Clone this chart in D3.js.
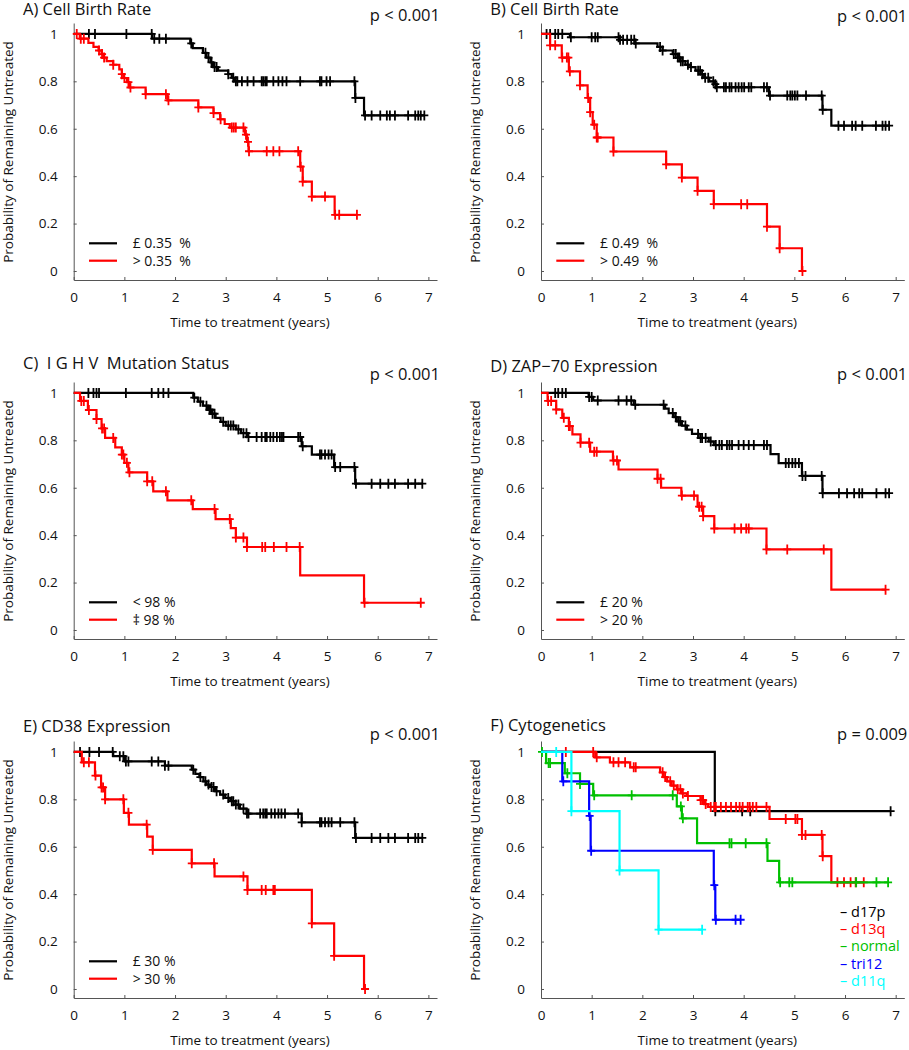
<!DOCTYPE html>
<html>
<head>
<meta charset="utf-8">
<script src="https://cdn.jsdelivr.net/npm/d3@7"></script>
<style>
    body { margin: 0; background: #fff; }
    text { font-family: "Open Sans", sans-serif; }
</style>
</head>
<body>
<svg id="chart" width="909" height="1050"></svg>
<script>
// Kaplan-Meier curves: steps = [time, survival after drop], cens = censor times

// A) cell birth rate 0.35
const aBlackSteps = [[1.55,0.98],[2.3,0.96],[2.35,0.94],[2.55,0.92],[2.62,0.90],[2.7,0.88],[2.75,0.86],[2.85,0.845],[3.05,0.83],[3.12,0.815],[3.18,0.80],[5.555,0.73],[5.73,0.656]];
const aBlackCens = [0.3,0.42,1.04,1.54,1.59,1.69,1.82,2.32,2.6,2.66,2.72,2.78,2.82,3.05,3.15,3.2,3.23,3.32,3.43,3.55,3.71,3.74,3.78,3.81,3.94,4.04,4.12,4.2,4.47,4.86,4.89,4.99,5.06,5.54,5.56,5.75,5.88,6.05,6.18,6.24,6.34,6.6,6.74,6.8,6.85,6.92];
const aRedSteps = [[0.12,0.98],[0.29,0.962],[0.39,0.945],[0.49,0.93],[0.55,0.915],[0.6,0.9],[0.65,0.885],[0.78,0.87],[0.9,0.85],[0.95,0.83],[0.98,0.814],[1.05,0.797],[1.1,0.774],[1.42,0.746],[1.85,0.72],[2.46,0.69],[2.76,0.666],[2.89,0.64],[2.98,0.62],[3.08,0.605],[3.38,0.575],[3.42,0.545],[3.45,0.505],[4.47,0.44],[4.52,0.377],[4.7,0.314],[5.15,0.237]];
const aRedCens = [0.06,0.14,0.2,0.5,0.56,0.6,0.78,0.95,1.0,1.08,1.12,1.42,1.82,1.87,2.46,2.76,2.9,3.12,3.16,3.2,3.35,3.4,3.44,3.46,3.81,3.94,4.06,4.43,4.48,4.52,4.7,4.96,5.16,5.24,5.59];

// B) cell birth rate 0.49
const bBlackSteps = [[0.57,0.986],[1.55,0.975],[1.85,0.96],[2.3,0.945],[2.4,0.93],[2.6,0.915],[2.7,0.90],[2.75,0.885],[2.85,0.87],[2.95,0.86],[3.05,0.845],[3.15,0.83],[3.22,0.815],[3.32,0.80],[3.42,0.788],[3.46,0.775],[4.5,0.74],[5.555,0.68],[5.73,0.613]];
const bBlackCens = [0.11,0.18,0.28,0.34,0.42,0.59,1.0,1.07,1.12,1.53,1.56,1.62,1.7,1.78,1.84,1.87,2.35,2.4,2.62,2.66,2.7,2.73,2.76,2.8,2.9,2.96,3.1,3.14,3.18,3.24,3.3,3.4,3.44,3.47,3.61,3.65,3.72,3.76,3.84,3.9,3.96,4.01,4.1,4.15,4.4,4.46,4.52,4.86,4.92,4.96,5.01,5.06,5.23,5.54,5.56,5.87,5.98,6.14,6.21,6.34,6.61,6.74,6.8,6.87];
const bRedSteps = [[0.18,0.952],[0.41,0.9],[0.55,0.842],[0.77,0.783],[0.92,0.73],[0.97,0.67],[1.02,0.617],[1.1,0.563],[1.43,0.504],[2.47,0.45],[2.78,0.394],[3.09,0.338],[3.41,0.282],[4.46,0.187],[4.71,0.096],[5.15,0]];
const bRedCens = [0.18,0.28,0.42,0.51,0.54,0.57,0.77,0.93,0.97,1.05,1.1,1.12,1.43,2.47,2.78,3.09,3.41,3.95,4.07,4.46,4.71,5.16];

// C) IGHV mutation status
const cBlackSteps = [[2.36,0.98],[2.45,0.963],[2.55,0.946],[2.65,0.929],[2.72,0.912],[2.8,0.895],[2.9,0.878],[3.0,0.862],[3.2,0.846],[3.3,0.83],[3.42,0.814],[4.5,0.775],[4.7,0.74],[5.14,0.687],[5.555,0.617]];
const cBlackCens = [0.29,0.39,0.45,0.5,1.03,1.54,1.67,1.77,1.87,2.38,2.5,2.62,2.68,2.7,2.74,2.78,2.95,3.05,3.1,3.15,3.25,3.35,3.41,3.45,3.61,3.71,3.78,3.81,3.88,3.94,4.01,4.07,4.11,4.14,4.43,4.47,4.52,4.86,4.89,4.96,5.03,5.09,5.16,5.26,5.54,5.57,5.88,6.05,6.21,6.34,6.6,6.74,6.88];
const cRedSteps = [[0.125,0.966],[0.28,0.928],[0.45,0.89],[0.55,0.85],[0.62,0.81],[0.82,0.77],[0.95,0.74],[1.0,0.705],[1.08,0.665],[1.45,0.627],[1.57,0.585],[1.85,0.547],[2.35,0.51],[2.8,0.468],[3.1,0.43],[3.2,0.39],[3.42,0.35],[4.47,0.23],[5.73,0.115]];
const cRedCens = [0.15,0.2,0.3,0.45,0.56,0.6,0.78,0.95,0.98,1.05,1.1,1.45,1.55,1.82,2.32,2.78,3.08,3.2,3.35,3.42,3.72,3.78,3.95,4.2,4.46,5.74,6.85];

// D) ZAP-70 expression
const dBlackSteps = [[0.94,0.983],[1.03,0.968],[1.83,0.95],[2.45,0.934],[2.52,0.915],[2.62,0.898],[2.68,0.88],[2.78,0.862],[2.88,0.845],[2.98,0.827],[3.11,0.81],[3.31,0.795],[3.41,0.78],[4.53,0.742],[4.69,0.704],[5.15,0.65],[5.555,0.577]];
const dBlackCens = [0.28,0.34,0.42,0.49,0.95,1.0,1.12,1.53,1.69,1.78,1.86,2.42,2.6,2.66,2.72,2.75,2.85,3.1,3.15,3.18,3.25,3.35,3.45,3.52,3.57,3.67,3.72,3.77,3.9,4.0,4.1,4.2,4.4,4.46,4.83,4.89,4.96,5.02,5.09,5.16,5.22,5.54,5.56,5.88,6.04,6.18,6.28,6.34,6.62,6.8,6.87];
const dRedSteps = [[0.13,0.966],[0.3,0.93],[0.42,0.895],[0.55,0.86],[0.62,0.825],[0.78,0.79],[0.97,0.752],[1.42,0.715],[1.53,0.677],[2.3,0.638],[2.37,0.60],[2.77,0.567],[3.09,0.52],[3.2,0.48],[3.42,0.428],[4.45,0.34],[5.73,0.17]];
const dRedCens = [0.14,0.2,0.3,0.45,0.55,0.57,0.78,0.95,1.05,1.1,1.43,1.5,2.3,2.36,2.78,3.02,3.12,3.17,3.2,3.42,3.82,3.95,4.05,4.1,4.45,4.86,5.58,6.8];

// E) CD38 expression
const eBlackSteps = [[0.78,0.982],[1.01,0.96],[1.8,0.942],[2.33,0.925],[2.4,0.907],[2.48,0.894],[2.56,0.876],[2.62,0.862],[2.69,0.852],[2.79,0.834],[2.89,0.82],[2.99,0.806],[3.09,0.792],[3.19,0.778],[3.28,0.761],[3.41,0.74],[4.5,0.703],[5.555,0.637]];
const eBlackCens = [0.125,0.31,0.5,0.77,0.91,0.98,1.03,1.08,1.54,1.67,1.8,1.87,2.36,2.5,2.6,2.66,2.72,2.76,2.82,2.95,3.05,3.12,3.15,3.2,3.25,3.35,3.42,3.45,3.68,3.74,3.78,3.81,3.9,3.97,4.04,4.1,4.17,4.43,4.5,4.86,4.89,4.96,5.03,5.09,5.26,5.54,5.57,5.88,6.05,6.21,6.34,6.6,6.74,6.8,6.88];
const eRedSteps = [[0.16,0.956],[0.42,0.9],[0.54,0.85],[0.62,0.8],[0.99,0.743],[1.09,0.693],[1.45,0.643],[1.56,0.587],[2.33,0.53],[2.78,0.475],[3.43,0.418],[4.7,0.277],[5.14,0.14],[5.73,0]];
const eRedCens = [0.2,0.3,0.43,0.55,0.58,0.62,0.98,1.08,1.44,1.56,2.33,2.77,3.35,3.43,3.71,3.79,3.94,3.97,4.7,5.14,5.75];

// F) cytogenetics
const fBlackSteps = [[3.43,0.75]];
const fBlackCens = [3.44,3.97,4.13,6.9];
const fRedSteps = [[1.07,0.977],[1.36,0.956],[1.76,0.935],[2.35,0.914],[2.42,0.894],[2.49,0.876],[2.58,0.858],[2.68,0.842],[2.78,0.825],[2.88,0.814],[3.15,0.797],[3.22,0.78],[3.3,0.768],[4.51,0.717],[5.15,0.65],[5.555,0.56],[5.73,0.45]];
const fRedCens = [0.49,1.03,1.1,1.43,1.53,1.66,1.83,1.87,2.4,2.45,2.55,2.62,2.7,2.75,2.8,2.9,3.15,3.18,3.2,3.25,3.35,3.42,3.45,3.55,3.65,3.75,3.85,3.92,3.98,4.08,4.12,4.18,4.25,4.45,4.83,5.02,5.06,5.15,5.22,5.54,5.56,5.85,5.98,6.11,6.21,6.37];
const fGreenSteps = [[0.1,0.953],[0.47,0.91],[0.77,0.865],[1.03,0.817],[2.68,0.77],[2.78,0.72],[3.08,0.615],[4.47,0.54],[4.7,0.45]];
const fGreenCens = [0.02,0.15,0.18,0.52,0.77,1.05,1.79,2.6,2.76,2.8,3.72,3.76,4.04,4.45,4.72,4.9,4.96,6.22,6.62,6.85];
const fBlueSteps = [[0.42,0.876],[0.95,0.73],[0.98,0.583],[3.41,0.438],[3.44,0.292]];
const fBlueCens = [0.44,0.96,0.99,3.42,3.45,3.84,3.94];
const fCyanSteps = [[0.6,0.75],[1.55,0.5],[2.32,0.25]];
const fCyanCens = [0.3,0.6,1.55,2.32,3.18];

const panelTitles = ["A) Cell Birth Rate", "B) Cell Birth Rate", "C)  I G H V  Mutation Status", "D) ZAP\u221270 Expression", "E) CD38 Expression", "F) Cytogenetics"];
const pValues = ["p < 0.001", "p < 0.001", "p < 0.001", "p < 0.001", "p < 0.001", "p = 0.009"];
const legendA = ["\u00a3 0.35  %", "> 0.35  %"];
const legendB = ["\u00a3 0.49  %", "> 0.49  %"];
const legendC = ["< 98 %", "\u2021 98 %"];
const legendD = ["\u00a3 20 %", "> 20 %"];
const legendE = ["\u00a3 30 %", "> 30 %"];
const legendF = ["d17p", "d13q", "normal", "tri12", "d11q"];
const colorsF = ["#000000", "#ff0000", "#00c000", "#0000ff", "#00ffff"];

const xTicks = [0, 1, 2, 3, 4, 5, 6, 7];
const yTicks = [0, 0.2, 0.4, 0.6, 0.8, 1];

const panels = [
    {title: panelTitles[0], p: pValues[0], titleY: 15, pY: 20.7, legend: legendA,
     curves: [{c: "#000", steps: aBlackSteps, cens: aBlackCens}, {c: "#ff0000", steps: aRedSteps, cens: aRedCens}]},
    {title: panelTitles[1], p: pValues[1], titleY: 15, pY: 21.5, legend: legendB,
     curves: [{c: "#000", steps: bBlackSteps, cens: bBlackCens}, {c: "#ff0000", steps: bRedSteps, cens: bRedCens}]},
    {title: panelTitles[2], p: pValues[2], titleY: 10, pY: 21, legend: legendC,
     curves: [{c: "#000", steps: cBlackSteps, cens: cBlackCens}, {c: "#ff0000", steps: cRedSteps, cens: cRedCens}]},
    {title: panelTitles[3], p: pValues[3], titleY: 13.3, pY: 21, legend: legendD,
     curves: [{c: "#000", steps: dBlackSteps, cens: dBlackCens}, {c: "#ff0000", steps: dRedSteps, cens: dRedCens}]},
    {title: panelTitles[4], p: pValues[4], titleY: 13.5, pY: 22, legend: legendE,
     curves: [{c: "#000", steps: eBlackSteps, cens: eBlackCens}, {c: "#ff0000", steps: eRedSteps, cens: eRedCens}]},
    {title: panelTitles[5], p: pValues[5], titleY: 12.7, pY: 22, legend: null,
     curves: [{c: colorsF[0], steps: fBlackSteps, cens: fBlackCens}, {c: colorsF[1], steps: fRedSteps, cens: fRedCens},
              {c: colorsF[2], steps: fGreenSteps, cens: fGreenCens}, {c: colorsF[3], steps: fBlueSteps, cens: fBlueCens},
              {c: colorsF[4], steps: fCyanSteps, cens: fCyanCens}]}
];

const colX = [0, 467.3];
const rowY = [0, 359, 718];

const svg = d3.select("#chart");

// survival value at time t (after any drop at t)
function survAt(steps, t) {
    let s = 1;
    steps.forEach(d => { if (d[0] <= t) s = d[1]; });
    return s;
}

panels.forEach((p, i) => {
    let g = svg.append("g")
        .attr("transform", `translate(${colX[i % 2]}, ${rowY[Math.floor(i / 2)]})`);

    let x = d3.scaleLinear().domain([0, 7.17]).range([73.7, 437]);
    let y = d3.scaleLinear().domain([-0.038, 1.046]).range([280, 23]);

    // axes
    let xAxis = g.append("g")
        .attr("transform", "translate(0,280)")
        .call(d3.axisBottom(x).tickValues(xTicks).tickSizeInner(-3).tickSizeOuter(0).tickPadding(12)
            .tickFormat(d => String(d)));
    let yAxis = g.append("g")
        .attr("transform", "translate(73.7,0)")
        .call(d3.axisLeft(y).tickValues(yTicks).tickSizeInner(-3).tickSizeOuter(0).tickPadding(16)
            .tickFormat(d => String(d)));
    [xAxis, yAxis].forEach(a => {
        a.attr("font-family", null).attr("font-size", 13.5);
        a.select(".domain").attr("stroke", "#555");
        a.selectAll(".tick line").attr("stroke", "#555");
        a.selectAll("text").attr("fill", "#111");
    });

    // curves
    let line = d3.line()
        .x(d => x(d[0]))
        .y(d => y(d[1]))
        .curve(d3.curveStepAfter);

    p.curves.forEach(cv => {
        let last = cv.steps[cv.steps.length - 1];
        let end = Math.max(last[0], d3.max(cv.cens));
        let pts = [[0, 1]].concat(cv.steps).concat([[end, last[1]]]);
        g.append("path")
            .datum(pts)
            .attr("d", line)
            .attr("fill", "none")
            .attr("stroke", cv.c)
            .attr("stroke-width", 2.2);

        g.selectAll(null)
            .data(cv.cens)
            .enter()
            .append("path")
            .attr("d", t => {
                let cx = x(t), cy = y(survAt(cv.steps, t));
                return `M${cx - 4},${cy}H${cx + 4}M${cx},${cy - 5}V${cy + 5}`;
            })
            .attr("stroke", cv.c)
            .attr("stroke-width", 1.8)
            .attr("fill", "none");
    });

    // titles
    g.append("text")
        .attr("x", 23)
        .attr("y", p.titleY)
        .attr("font-size", 16.5)
        .attr("fill", "#111")
        .style("white-space", "pre")
        .text(p.title);

    g.append("text")
        .attr("x", 440)
        .attr("y", p.pY)
        .attr("text-anchor", "end")
        .attr("font-size", 16.5)
        .attr("fill", "#111")
        .text(p.p);

    g.append("text")
        .attr("transform", "translate(13,152) rotate(-90)")
        .attr("text-anchor", "middle")
        .attr("font-size", 13.5)
        .attr("fill", "#111")
        .text("Probability of Remaining Untreated");

    g.append("text")
        .attr("x", 250)
        .attr("y", 327)
        .attr("text-anchor", "middle")
        .attr("font-size", 13.5)
        .attr("fill", "#111")
        .text("Time to treatment (years)");

    // legends
    if (p.legend) {
        p.legend.forEach((lab, j) => {
            let ly = 243.3 + j * 17.4;
            g.append("line")
                .attr("x1", 89).attr("x2", 117)
                .attr("y1", ly).attr("y2", ly)
                .attr("stroke", p.curves[j].c)
                .attr("stroke-width", 2.2);
            g.append("text")
                .attr("x", 132.7)
                .attr("y", ly + 5)
                .attr("font-size", 14)
                .attr("fill", "#111")
                .style("white-space", "pre")
                .text(lab);
        });
    } else {
        legendF.forEach((lab, j) => {
            g.append("text")
                .attr("x", 372.7)
                .attr("y", 193.7 + j * 17.3 + 5)
                .attr("font-size", 14.5)
                .attr("fill", colorsF[j])
                .text("\u2013 " + lab);
        });
    }
});
</script>
</body>
</html>
